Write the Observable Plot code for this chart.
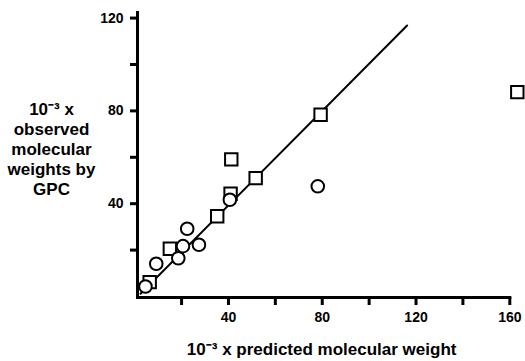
<!DOCTYPE html>
<html>
<head>
<meta charset="utf-8">
<script src="https://cdn.jsdelivr.net/npm/d3@7"></script>
<script src="https://cdn.jsdelivr.net/npm/@observablehq/plot@0.6"></script>
<style>
  html, body { margin: 0; padding: 0; background: white; }
  #chart svg text { font-weight: bold; fill: black; }
  #chart svg g[aria-label$="axis tick"] path { stroke: black; stroke-width: 3px; stroke-opacity: 1; }
</style>
</head>
<body>
<div id="chart"></div>
<script>
// Squares: predicted vs observed (10^-3 x MW)
const squareX = [163.2, 79.3, 41.2, 51.6, 40.9, 35.2, 15.0, 6.4];
const squareY = [88.1, 78.3, 59.1, 51.0, 44.3, 34.6, 20.6, 6.2];
// Circles
const circleX = [78.1, 40.6, 22.4, 27.4, 20.6, 18.6, 9.2, 4.6];
const circleY = [47.5, 41.7, 29.2, 22.3, 21.7, 16.5, 14.1, 4.3];
// Reference line (endpoints)
const lineX = [2.5, 116.2];
const lineY = [1.2, 116.8];
// Ticks
const xTicks = [20, 40, 60, 80, 100, 120, 140, 160];
const yTicks = [20, 40, 60, 80, 100, 120];
const xLabeled = [40, 80, 120, 160];
const yLabeled = [40, 80, 120];
const xTitle = "10\u207B\u00B3 x predicted molecular weight";
const yTitle = "10\u207B\u00B3 x\nobserved\nmolecular\nweights by\nGPC";

const squares = squareX.map((x, i) => ({x, y: squareY[i]}));
const circles = circleX.map((x, i) => ({x, y: circleY[i]}));
const line = lineX.map((x, i) => ({x, y: lineY[i]}));

const chart = Plot.plot({
  width: 525,
  height: 361,
  marginLeft: 137,
  marginRight: 15.7,
  marginTop: 12,
  marginBottom: 64,
  style: {fontFamily: "'Liberation Sans', Arial, sans-serif", fontWeight: "bold", fontSize: "14px", background: "white", color: "black"},
  x: {domain: [1.2, 160], axis: null},
  y: {domain: [-0.43, 122.4], axis: null},
  marks: [
    Plot.axisX(xTicks, {anchor: "bottom", tickSize: 8, tickPadding: 7, stroke: "black", strokeWidth: 3, fontSize: 14,
      tickFormat: d => xLabeled.includes(d) ? String(d) : "", label: null}),
    Plot.axisY(yTicks, {anchor: "left", tickSize: 7, tickPadding: 7, stroke: "black", strokeWidth: 3, fontSize: 14,
      tickFormat: d => yLabeled.includes(d) ? String(d) : "", label: null}),
    Plot.frame({anchor: "left", stroke: "black", strokeWidth: 3}),
    Plot.frame({anchor: "bottom", stroke: "black", strokeWidth: 3}),
    Plot.line(line, {x: "x", y: "y", stroke: "black", strokeWidth: 2}),
    Plot.dot(squares, {x: "x", y: "y", symbol: "square", r: 7, stroke: "black", fill: "white", strokeWidth: 2}),
    Plot.dot(circles, {x: "x", y: "y", symbol: "circle", r: 6.3, stroke: "black", fill: "white", strokeWidth: 2}),
    Plot.text([xTitle], {frameAnchor: "bottom", dx: -2, dy: 52, lineAnchor: "middle", fontSize: 17, fill: "black"}),
    Plot.text([yTitle], {frameAnchor: "left", dx: -86, dy: -6.5, textAnchor: "middle", lineAnchor: "middle", lineHeight: 1.18, fontSize: 17, fill: "black"})
  ]
});
document.getElementById("chart").appendChild(chart);
</script>
</body>
</html>
